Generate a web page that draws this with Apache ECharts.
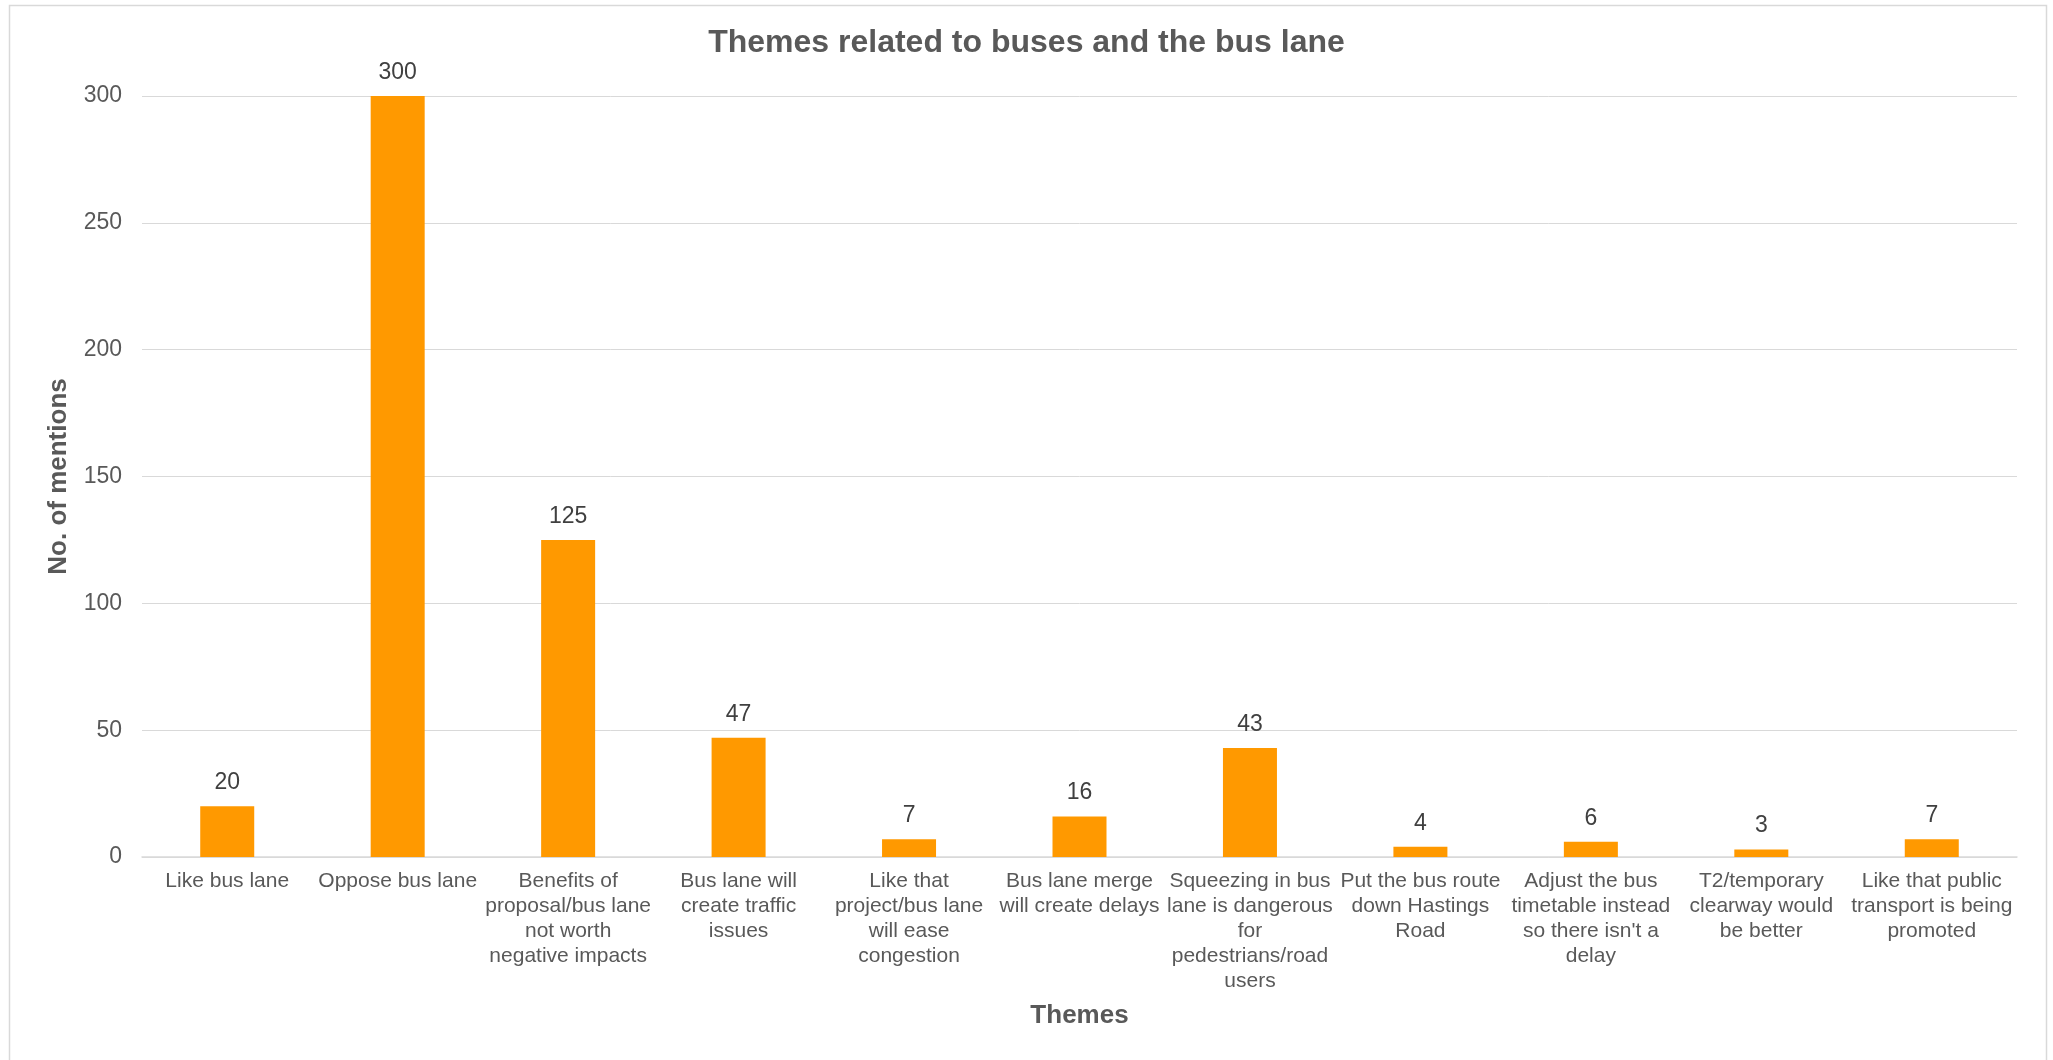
<!DOCTYPE html>
<html>
<head>
<meta charset="utf-8">
<script src="https://cdn.jsdelivr.net/npm/echarts@6/dist/echarts.min.js"></script>
<style>
html,body{margin:0;padding:0;background:#fff;}
#chart{width:2053px;height:1060px;}
</style>
</head>
<body>
<div id="chart"></div>
<script>
const titleText = 'Themes related to buses and the bus lane';
const xAxisTitle = 'Themes';
const yAxisTitle = 'No. of mentions';
const categories = [
  'Like bus lane',
  'Oppose bus lane',
  'Benefits of proposal/bus lane not worth negative impacts',
  'Bus lane will create traffic issues',
  'Like that project/bus lane will ease congestion',
  'Bus lane merge will create delays',
  'Squeezing in bus lane is dangerous for pedestrians/road users',
  'Put the bus route down Hastings Road',
  'Adjust the bus timetable instead so there isn\'t a delay',
  'T2/temporary clearway would be better',
  'Like that public transport is being promoted'
];
const mentions = [20, 300, 125, 47, 7, 16, 43, 4, 6, 3, 7];
const yTicks = [0, 50, 100, 150, 200, 250, 300];

const FONT = '"Liberation Sans", Arial, sans-serif';
const CAT_FONT_SIZE = 21;
const CAT_WRAP = 169;

// word wrap at spaces only (like the original), measured with the label font
const measureCtx = document.createElement('canvas').getContext('2d');
measureCtx.font = CAT_FONT_SIZE + 'px ' + FONT;
function wrapWords(text) {
  const words = text.split(' ');
  const lines = [];
  let cur = '';
  words.forEach(w => {
    const test = cur ? cur + ' ' + w : w;
    if (cur && measureCtx.measureText(test).width > CAT_WRAP) {
      lines.push(cur);
      cur = w;
    } else {
      cur = test;
    }
  });
  if (cur) lines.push(cur);
  return lines.join('\n');
}

const chart = echarts.init(document.getElementById('chart'), null, {renderer: 'canvas'});
chart.setOption({
  backgroundColor: '#ffffff',
  animation: false,
  textStyle: {fontFamily: FONT},
  title: {
    text: titleText,
    left: 'center',
    top: 22,
    textStyle: {fontFamily: FONT, fontSize: 32, fontWeight: 'bold', color: '#595959'}
  },
  graphic: [{
    type: 'rect',
    shape: {x: 9.5, y: 5.5, width: 2037, height: 1080},
    style: {fill: 'none', stroke: '#d9d9d9', lineWidth: 1.5},
    silent: true
  }],
  grid: {left: 142, right: 36, top: 96, bottom: 203, containLabel: false},
  xAxis: {
    type: 'category',
    data: categories,
    name: xAxisTitle,
    nameLocation: 'middle',
    nameGap: 146,
    nameTextStyle: {fontFamily: FONT, fontSize: 26, fontWeight: 'bold', color: '#595959', lineHeight: 26},
    axisTick: {show: false},
    axisLine: {show: true, lineStyle: {color: '#d9d9d9', width: 1.5}},
    axisLabel: {
      interval: 0,
      margin: 12,
      fontFamily: FONT,
      fontSize: CAT_FONT_SIZE,
      lineHeight: 25,
      color: '#595959',
      align: 'center',
      verticalAlign: 'top',
      formatter: wrapWords
    }
  },
  yAxis: {
    type: 'value',
    min: yTicks[0],
    max: yTicks[yTicks.length - 1],
    interval: yTicks[1] - yTicks[0],
    name: yAxisTitle,
    nameLocation: 'middle',
    nameGap: 70,
    nameTextStyle: {fontFamily: FONT, fontSize: 26, fontWeight: 'bold', color: '#595959', lineHeight: 26},
    axisLine: {show: false},
    axisTick: {show: false},
    splitLine: {show: true, lineStyle: {color: '#d9d9d9', width: 1}},
    axisLabel: {fontFamily: FONT, fontSize: 23, color: '#595959', margin: 20}
  },
  series: [{
    type: 'bar',
    data: mentions,
    barWidth: 54,
    itemStyle: {color: '#ff9900'},
    label: {
      show: true,
      position: 'top',
      distance: 12,
      fontFamily: FONT,
      fontSize: 23,
      lineHeight: 23,
      color: '#404040'
    }
  }]
});
</script>
</body>
</html>
